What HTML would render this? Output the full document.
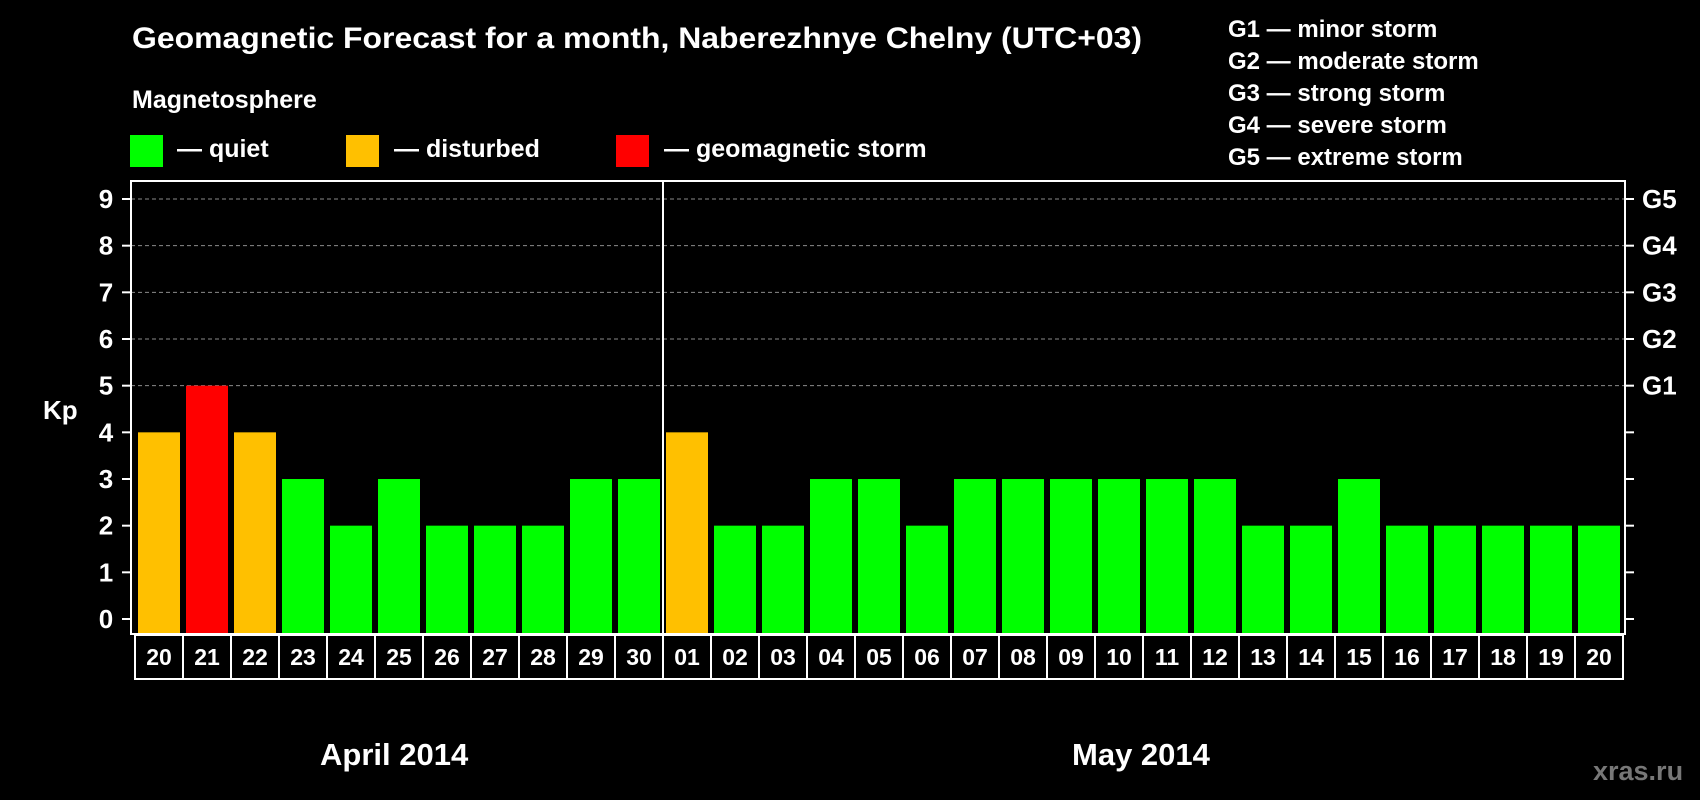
<!DOCTYPE html>
<html><head><meta charset="utf-8"><style>
html,body{margin:0;padding:0;background:#000;}
svg{display:block;font-family:"Liberation Sans",Arial,sans-serif;font-weight:bold;}
</style></head><body>
<svg id="chart" width="1700" height="800" viewBox="0 0 1700 800" xmlns="http://www.w3.org/2000/svg">
<rect x="0" y="0" width="1700" height="800" fill="#000"/>
<text x="132" y="48" font-size="30" fill="#fff" textLength="1010" lengthAdjust="spacingAndGlyphs">Geomagnetic Forecast for a month, Naberezhnye Chelny (UTC+03)</text>
<text x="132" y="108" font-size="25" fill="#fff">Magnetosphere</text>
<g><rect x="130" y="135" width="33" height="32" fill="#00ff00"/><text x="177" y="157" font-size="25" fill="#fff">— quiet</text></g>
<g><rect x="346" y="135" width="33" height="32" fill="#ffc000"/><text x="394" y="157" font-size="25" fill="#fff">— disturbed</text></g>
<g><rect x="616" y="135" width="33" height="32" fill="#ff0000"/><text x="664" y="157" font-size="25" fill="#fff">— geomagnetic storm</text></g>
<g font-size="24" fill="#fff">
<text x="1228" y="37">G1 — minor storm</text>
<text x="1228" y="69">G2 — moderate storm</text>
<text x="1228" y="101">G3 — strong storm</text>
<text x="1228" y="133">G4 — severe storm</text>
<text x="1228" y="165">G5 — extreme storm</text>
</g>
<g id="plot"></g>
<text x="43" y="419" font-size="26" fill="#fff">Kp</text>
<text x="320" y="765" font-size="31" fill="#fff">April 2014</text>
<text x="1072" y="765" font-size="31" fill="#fff">May 2014</text>
<text x="1593" y="780" font-size="27" fill="#777">xras.ru</text>
</svg>
<script>
const days = ["20","21","22","23","24","25","26","27","28","29","30","01","02","03","04","05","06","07","08","09","10","11","12","13","14","15","16","17","18","19","20"];
const kpValues = [4,5,4,3,2,3,2,2,2,3,3,4,2,2,3,3,2,3,3,3,3,3,3,2,2,3,2,2,2,2,2];
const yTicks = [0,1,2,3,4,5,6,7,8,9];
const gLabels = ["","","","","","G1","G2","G3","G4","G5"];
const monthBreakIndex = 11;

const NS = "http://www.w3.org/2000/svg";
const plot = document.getElementById('plot');
const plotLeft = 131, plotRight = 1625, plotTop = 181, plotBottom = 634;
const y0 = 619, unit = (619 - 199) / 9;
const boxX0 = 135, pitch = 48, barW = 42;
function yScale(v){ return y0 - v * unit; }
function xScale(i){ return boxX0 + i * pitch; }
function mk(tag, attrs){ const e = document.createElementNS(NS, tag); for (const k in attrs) e.setAttribute(k, attrs[k]); plot.appendChild(e); return e; }
function color(v){ return v >= 5 ? "#ff0000" : (v >= 4 ? "#ffc000" : "#00ff00"); }

yTicks.forEach(t => {
  if (t >= 5) {
    const l = mk('line', {x1:plotLeft, x2:plotRight, y1:yScale(t), y2:yScale(t), stroke:"#8a8a8a", "stroke-width":1, "stroke-dasharray":"4,3"});
    
    
  }
});
kpValues.forEach((v, i) => {
  const yt = yScale(v);
  const r = mk('rect', {x:xScale(i) + 3, y:yt, width:barW, height:plotBottom - yt, fill:color(v)});
  
  
});
const fr = mk('rect', {x:plotLeft, y:plotTop, width:plotRight-plotLeft, height:plotBottom-plotTop, fill:"none", stroke:"#fff", "stroke-width":2});


yTicks.forEach(t => {
  const y = yScale(t);
  const a = mk('line', {x1:122, x2:plotLeft, y1:y, y2:y, stroke:"#fff", "stroke-width":2});
  
  
  const b = mk('line', {x1:plotRight, x2:1634, y1:y, y2:y, stroke:"#fff", "stroke-width":2});
  
  
  const tx = mk('text', {x:106, y:y + 9, "font-size":26, fill:"#fff", "text-anchor":"middle"});
  tx.textContent = t;
  
  
  if (gLabels[t]) {
    const g = mk('text', {x:1642, y:y + 9, "font-size":26, fill:"#fff"});
    g.textContent = gLabels[t];
    
    
  }
});
days.forEach((d, i) => {
  const bx = mk('rect', {x:xScale(i), y:635, width:pitch, height:44, fill:"#000", stroke:"#fff", "stroke-width":2});
  
  
  const t = mk('text', {x:xScale(i) + pitch/2, y:665, "font-size":23, fill:"#fff", "text-anchor":"middle"});
  t.textContent = d;
  
  
});
const mx = xScale(monthBreakIndex);
const dv = mk('line', {x1:mx, x2:mx, y1:plotTop, y2:679, stroke:"#fff", "stroke-width":2});


</script>
</body></html>
